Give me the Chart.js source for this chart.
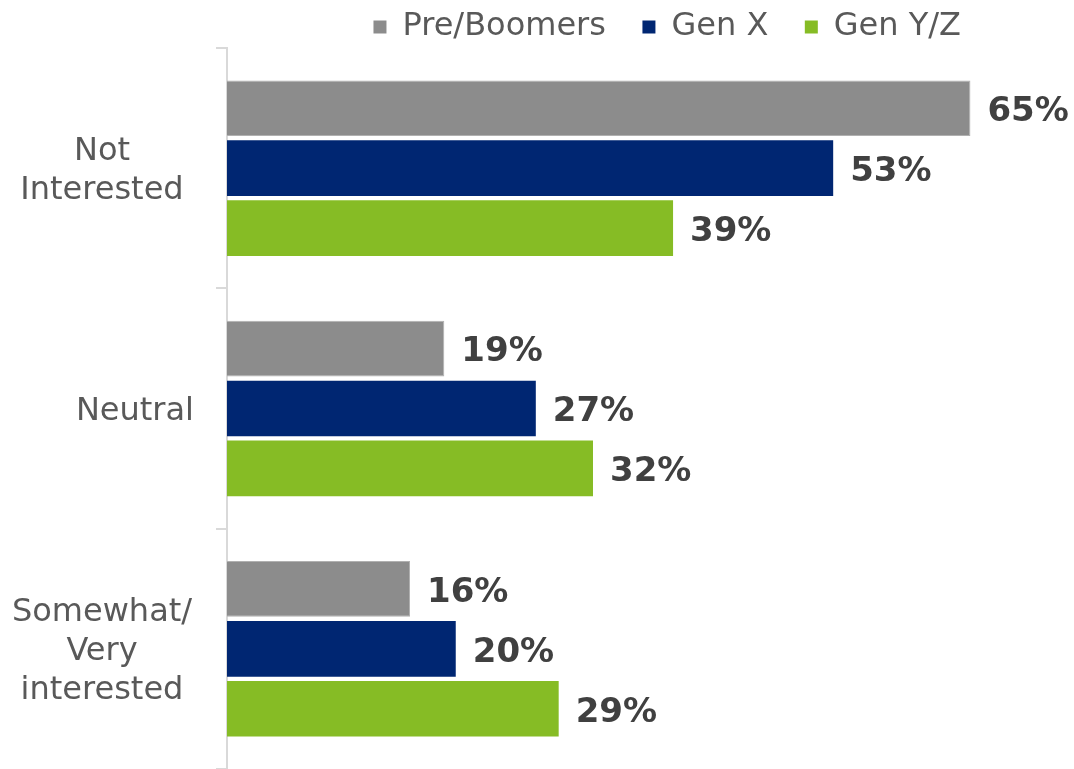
<!DOCTYPE html>
<html>
<head>
<meta charset="utf-8">
<script src="https://cdn.jsdelivr.net/npm/chart.js@4"></script>
<style>
  html, body { margin: 0; padding: 0; background: #fff; }
  #wrap { width: 1074px; height: 769px; }
</style>
</head>
<body>
<div id="wrap"><canvas id="chart"></canvas></div>
<script>
const categories = [["Not", "Interested"], "Neutral", ["Somewhat/", "Very", "interested"]];
const seriesNames = ["Pre/Boomers", "Gen X", "Gen Y/Z"];
const preBoomers = [65, 19, 16];
const genX = [53, 27, 20];
const genYZ = [39, 32, 29];
const seriesColors = ["#8c8c8c", "#002672", "#86bc25"];

const FONT = "'DejaVu Sans', Verdana, sans-serif";

// category labels: single lines right-aligned, wrapped ones centered in the wrap box
const yLabelPlugin = {
  id: "yLabels",
  afterDraw(chart) {
    const ctx = chart.ctx;
    const yScale = chart.scales.y;
    const right = 194;
    const wrapWidth = 184;
    const lineGap = 39;
    ctx.save();
    ctx.font = "32px " + FONT;
    ctx.fillStyle = "#595959";
    ctx.textBaseline = "middle";
    categories.forEach((cat, i) => {
      const lines = Array.isArray(cat) ? cat : [cat];
      const cy = yScale.getPixelForTick(i) + 3;
      let x;
      if (lines.length > 1) {
        ctx.textAlign = "center";
        x = right - wrapWidth / 2;
      } else {
        ctx.textAlign = "right";
        x = right;
      }
      lines.forEach((line, j) => {
        ctx.fillText(line, x, cy + (j - (lines.length - 1) / 2) * lineGap);
      });
    });
    ctx.restore();
  },
};

// value labels at the end of each bar
const valueLabelPlugin = {
  id: "valueLabels",
  afterDatasetsDraw(chart) {
    const ctx = chart.ctx;
    ctx.save();
    ctx.font = "bold 34px " + FONT;
    ctx.fillStyle = "#404040";
    ctx.textAlign = "left";
    ctx.textBaseline = "middle";
    chart.data.datasets.forEach((ds, di) => {
      chart.getDatasetMeta(di).data.forEach((bar, i) => {
        ctx.fillText(ds.data[i] + "%", bar.x + 17, bar.y + 4);
      });
    });
    ctx.restore();
  },
};

// nudge the legend a little lower without moving the plot area
const legendNudge = {
  id: "legendNudge",
  afterLayout(chart) {
    if (chart.legend) {
      chart.legend.top += 5;
      chart.legend.bottom += 5;
    }
  },
};

const seriesData = [preBoomers, genX, genYZ];

new Chart(document.getElementById("chart"), {
  type: "bar",
  data: {
    labels: categories,
    datasets: seriesNames.map((name, i) => ({
      label: name,
      data: seriesData[i],
      backgroundColor: seriesColors[i],
      borderColor: i === 0 ? "#b0b0b0" : seriesColors[i],
      borderWidth: i === 0 ? 1 : 0,
      borderSkipped: "start",
      categoryPercentage: 0.748,
      barPercentage: 0.93,
      clip: false,
    })),
  },
  options: {
    indexAxis: "y",
    responsive: true,
    maintainAspectRatio: false,
    animation: false,
    layout: { padding: { left: 216, right: 107, top: 0, bottom: 0 } },
    plugins: {
      legend: {
        position: "top",
        align: "end",
        labels: {
          font: { family: FONT, size: 32 },
          color: "#595959",
          boxWidth: 13,
          boxHeight: 13,
          padding: 6,
          generateLabels(chart) {
            const items = Chart.defaults.plugins.legend.labels.generateLabels(chart);
            items.forEach((item, i) => {
              item.fontColor = "#595959";
              item.lineWidth = 0;
              if (i < items.length - 1) item.text = item.text + "   ";
            });
            return items;
          },
        },
      },
      tooltip: { enabled: false },
    },
    scales: {
      x: {
        display: false,
        min: 0,
        max: 64.7,
      },
      y: {
        ticks: { display: false },
        grid: {
          display: true,
          drawOnChartArea: false,
          drawTicks: true,
          tickLength: 11,
          color: "#d9d9d9",
          lineWidth: 2,
          offset: true,
        },
        border: { display: true, color: "#d9d9d9", width: 2 },
      },
    },
  },
  plugins: [yLabelPlugin, valueLabelPlugin, legendNudge],
});
</script>
</body>
</html>
